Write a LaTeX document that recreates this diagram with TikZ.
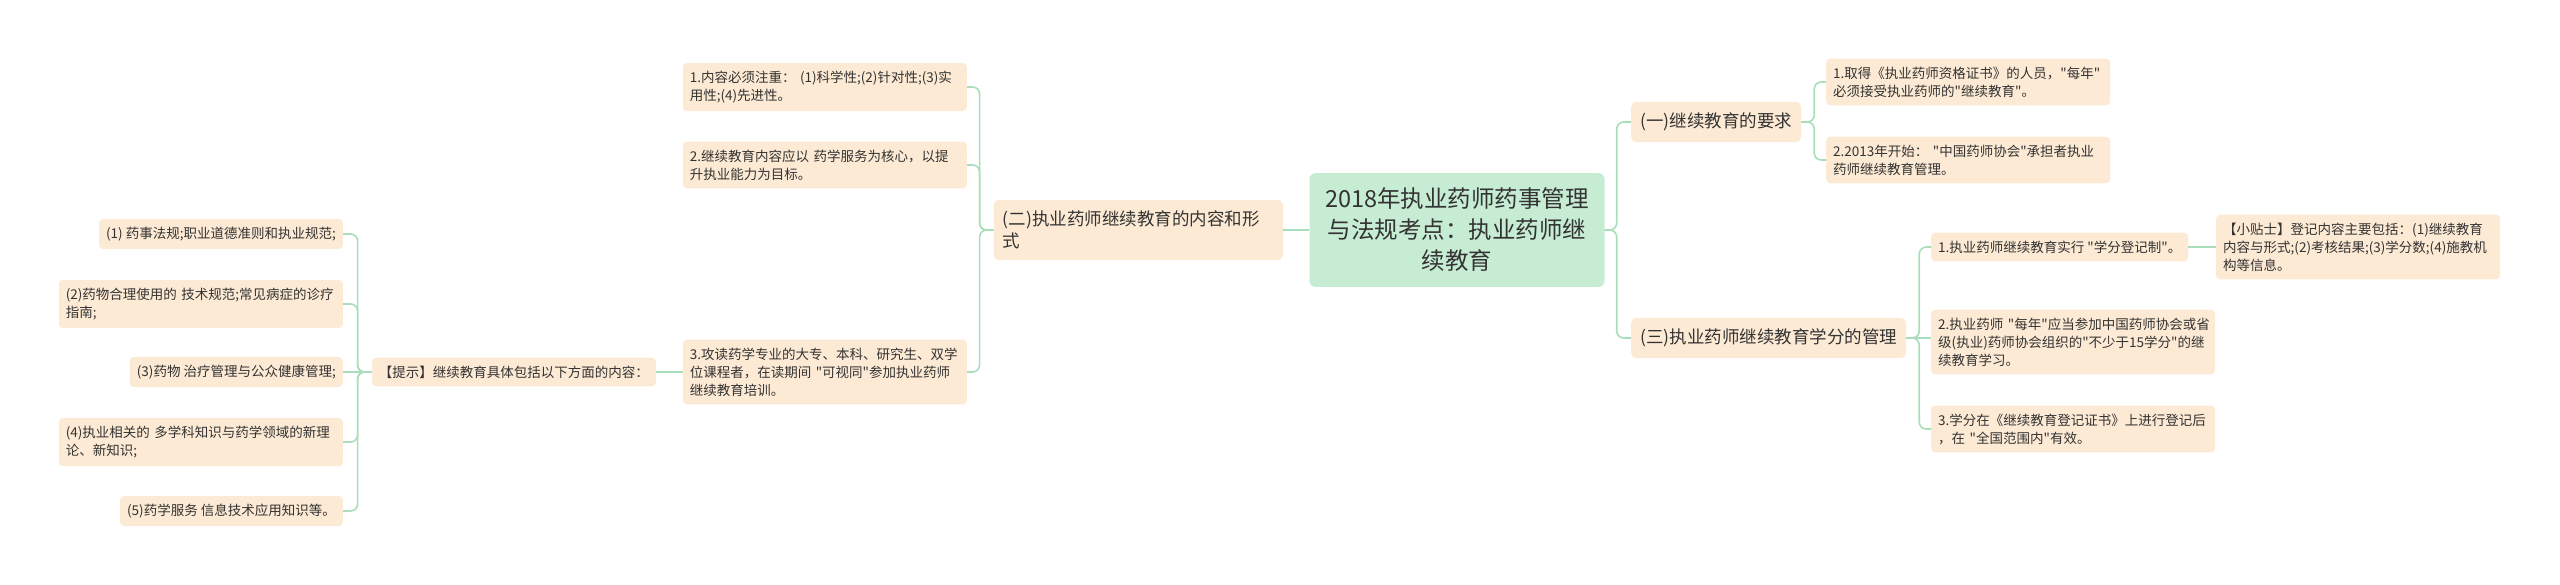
\documentclass[tikz,border=0pt]{standalone}
\usepackage{fontspec}
\newfontfamily\cnfont{Noto Sans CJK SC}
\usepackage{tikz}
\definecolor{mmGreen}{RGB}{198,236,211}
\definecolor{mmPeach}{RGB}{253,234,212}
\definecolor{mmLine}{RGB}{170,221,186}
\definecolor{mmText}{RGB}{51,51,51}

\begin{document}
\begin{tikzpicture}[x=1pt, y=-1pt]
  \tikzset{branch/.style={draw=mmLine, line width=1.6pt, rounded corners=7pt}}
  \tikzset{topic/.style={fill=mmPeach, rounded corners=5pt, text=mmText, inner xsep=9pt, inner ysep=11pt, font=\cnfont\fontsize{17.5}{22}\selectfont, align=left}}
  \tikzset{leaf/.style={fill=mmPeach, rounded corners=4pt, text=mmText, inner xsep=7pt, inner ysep=8pt, font=\cnfont\fontsize{13.5}{18}\selectfont, align=left}}
  \tikzset{wide/.style={text width=270pt}}

  \useasboundingbox (0,0) rectangle (2560,585);

  \node[fill=mmGreen, rounded corners=6pt, text=mmText, inner xsep=15pt, inner ysep=15pt, text width=265pt, align=center, font=\cnfont\fontsize{23.5}{31}\selectfont] at (1457,230) (root) {2018年执业药师药事管理\\与法规考点：执业药师继\\续教育};

  % left half
  \node[topic, text width=271pt, anchor=east] at (1283,230) (t2) {(二)执业药师继续教育的内容和形\\式};
  \node[leaf, wide, anchor=east] at (967,87) (c1) {1.内容必须注重： (1)科学性;(2)针对性;(3)实\\用性;(4)先进性。};
  \node[leaf, wide, anchor=east] at (967,165) (c2) {2.继续教育内容应以 药学服务为核心，以提\\升执业能力为目标。};
  \node[leaf, wide, anchor=east] at (967,372) (c3) {3.攻读药学专业的大专、本科、研究生、双学\\位课程者，在读期间 "可视同"参加执业药师\\继续教育培训。};
  \node[leaf, anchor=east] at (656,372) (tip) {【提示】继续教育具体包括以下方面的内容：};
  \node[leaf, anchor=east] at (343,234) (l1) {(1) 药事法规;职业道德准则和执业规范;};
  \node[leaf, wide, anchor=east] at (343,304) (l2) {(2)药物合理使用的 技术规范;常见病症的诊疗\\指南;};
  \node[leaf, anchor=east] at (343,372) (l3) {(3)药物 治疗管理与公众健康管理;};
  \node[leaf, wide, anchor=east] at (343,442) (l4) {(4)执业相关的 多学科知识与药学领域的新理\\论、新知识;};
  \node[leaf, anchor=east] at (343,511) (l5) {(5)药学服务 信息技术应用知识等。};

  % right half
  \node[topic, anchor=west] at (1631,122) (t1) {(一)继续教育的要求};
  \node[topic, anchor=west] at (1631,338) (t3) {(三)执业药师继续教育学分的管理};
  \node[leaf, wide, anchor=west] at (1826,82) (r1) {1.取得《执业药师资格证书》的人员，"每年"\\必须接受执业药师的"继续教育"。};
  \node[leaf, wide, anchor=west] at (1826,160) (r2) {2.2013年开始： "中国药师协会"承担者执业\\药师继续教育管理。};
  \node[leaf, anchor=west] at (1931,247) (s1) {1.执业药师继续教育实行 "学分登记制"。};
  \node[leaf, wide, anchor=west] at (2216,247) (tip2) {【小贴士】登记内容主要包括：(1)继续教育\\内容与形式;(2)考核结果;(3)学分数;(4)施教机\\构等信息。};
  \node[leaf, wide, anchor=west] at (1931,342) (s2) {2.执业药师~"每年"应当参加中国药师协会或省\\级(执业)药师协会组织的"不少于15学分"的继\\续教育学习。};
  \node[leaf, wide, anchor=west] at (1931,429) (s3) {3.学分在《继续教育登记证书》上进行登记后\\，在 "全国范围内"有效。};

  \path[branch] (root.west) -- (t2.east);
  \path[branch] (root.east) -- ++(12,0) |- (t1.west);
  \path[branch] (root.east) -- ++(12,0) |- (t3.west);
  \foreach \c in {c1,c2,c3}
    \path[branch] (t2.west) -- ++(-14,0) |- (\c.east);
  \path[branch] (c3.west) -- (tip.east);
  \foreach \l in {l1,l2,l4,l5}
    \path[branch] (tip.west) -- ++(-14,0) |- (\l.east);
  \path[branch] (tip.west) -- (l3.east);
  \foreach \r in {r1,r2}
    \path[branch] (t1.east) -- ++(13,0) |- (\r.west);
  \path[branch] (t3.east) -- ++(13,0) |- (s1.west);
  \path[branch] (t3.east) -- ++(13,0) |- (s3.west);
  \path[branch] (t3.east) -- (t3.east -| s2.west);
  \path[branch] (s1.east) -- (s1.east -| tip2.west);
\end{tikzpicture}
\end{document}
